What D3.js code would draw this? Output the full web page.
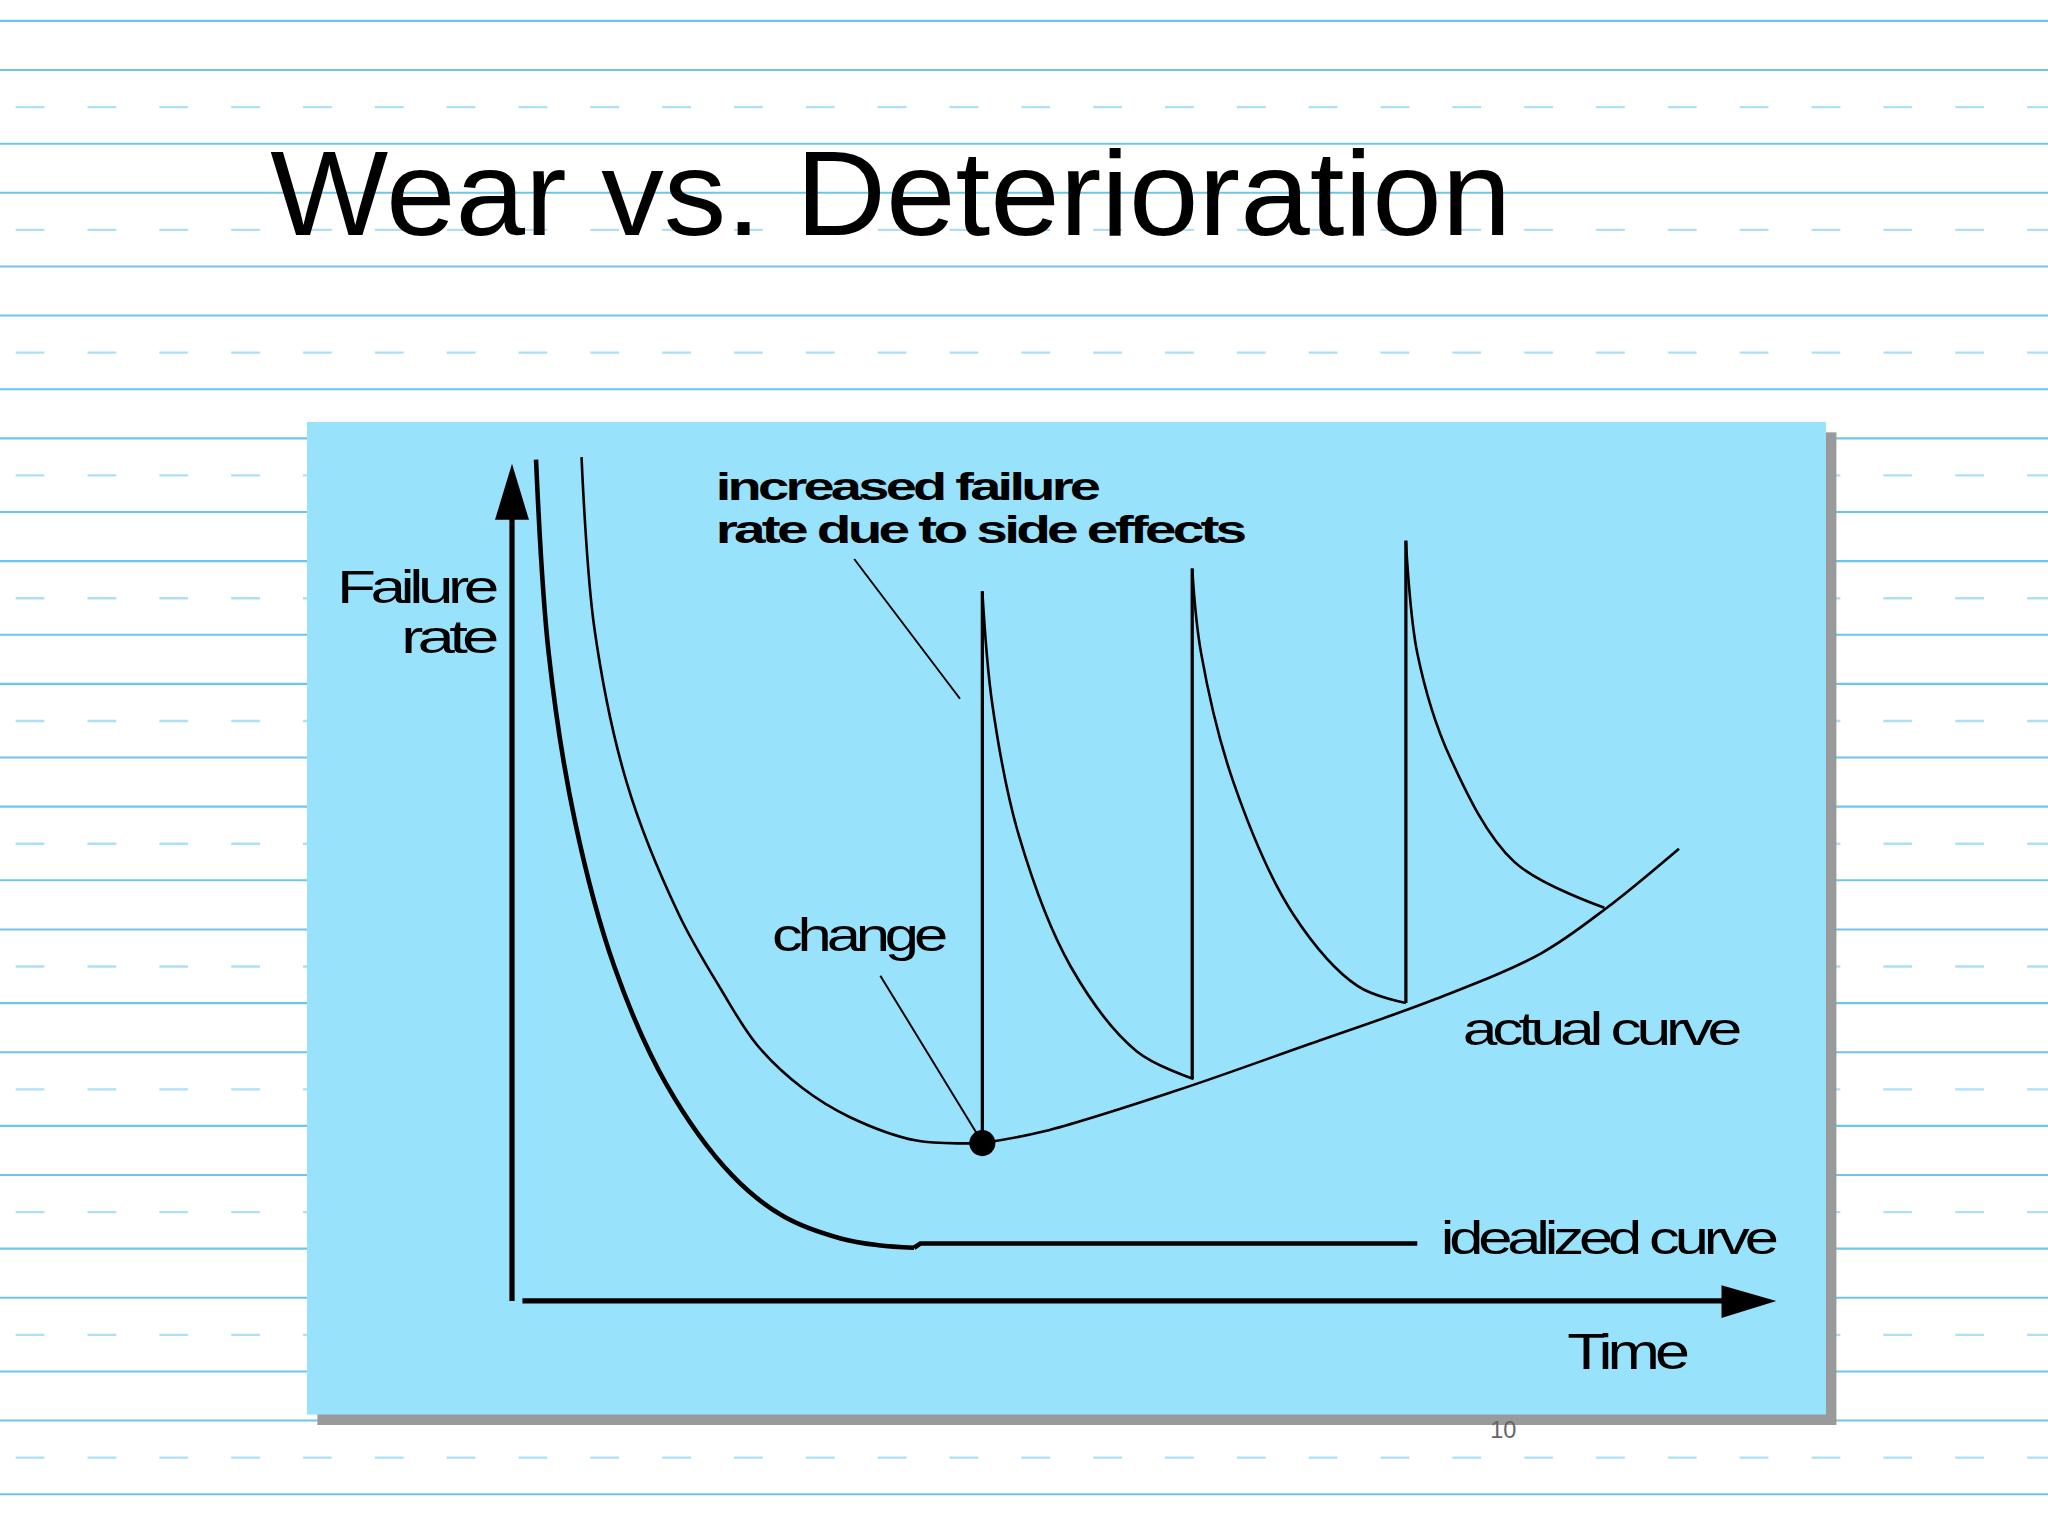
<!DOCTYPE html>
<html><head><meta charset="utf-8">
<script src="https://cdn.jsdelivr.net/npm/d3@7/dist/d3.min.js"></script>
<style>html,body{margin:0;padding:0;background:#fff}svg{display:block}</style>
</head><body><div id="c"></div>
<script>
const title = "Wear vs. Deterioration";
const idealDecay = [[1.9,99.7],[2.9,76.8],[5.0,56.7],[8.1,39.6],[12.2,25.7],[17.4,14.9],[21.5,10.0],[26.0,7.4],[29.0,6.6],[31.8,6.3]];
const idealFlat = [[32.3,6.8],[71.6,6.8]];
const actualDecay = [[5.5,100],[6.5,79.9],[9.1,61.3],[13.2,45.8],[16.5,37.0],[19.4,30.3],[23.0,25.2],[26.7,21.8],[32.0,19.0],[37.2,18.7]];
const actualRise = [[37.2,18.7],[42.1,20.1],[52.5,24.9],[62.8,30.3],[73.1,35.8],[81.4,41.2],[86.6,46.6],[92.3,53.6]];
const spike1 = [[37.2,18.7],[37.2,84.1],[38.0,70.6],[40.1,55.1],[44.2,39.6],[49.4,29.6],[53.9,26.3]];
const spike2 = [[53.8,26.3],[53.8,86.8],[54.5,76.8],[57.1,61.3],[61.8,45.8],[66.9,37.3],[70.7,35.3]];
const spike3 = [[70.7,35.3],[70.7,90.1],[71.6,76.8],[74.2,64.4],[79.3,52.0],[86.4,46.6]];
const changePoint = [37.2,18.7];
const labels = {y:["Failure","rate"], x:"Time", side:["increased failure","rate due to side effects"], change:"change", actual:"actual curve", ideal:"idealized curve", page:"10"};

const svg = d3.select("#c").append("svg").attr("width",2048).attr("height",1536).attr("viewBox","0 0 1568 1176");
const solid=[], dash=[];
d3.range(0,13).forEach(k=>{solid.push(16+94*k, 53.6+94*k); dash.push(82+94*k);});
svg.selectAll(".s").data(solid.filter(v=>v<1176)).join("line").attr("x1",0).attr("x2",1568).attr("y1",d=>d).attr("y2",d=>d).attr("stroke","#6cc6ec").attr("stroke-width",1.6);
svg.selectAll(".d").data(dash.filter(v=>v<1176)).join("line").attr("x1",12).attr("x2",1568).attr("y1",d=>d).attr("y2",d=>d).attr("stroke","#aee0f5").attr("stroke-width",1.8).attr("stroke-dasharray","22 33");
svg.append("text").attr("x",207).attr("y",180).attr("font-family","Liberation Sans, Arial").attr("font-size",92).attr("fill","#000").attr("textLength",950).attr("lengthAdjust","spacingAndGlyphs").text(title);
svg.append("rect").attr("x",243).attr("y",331).attr("width",1163).attr("height",760).attr("fill","#9a9a9a");
svg.append("rect").attr("x",235).attr("y",323).attr("width",1163).attr("height",760).attr("fill","#99e2fc");

const x = d3.scaleLinear().domain([0,100]).range([392,1360]);
const y = d3.scaleLinear().domain([0,100]).range([996,350]);
const lineC = d3.line().x(d=>x(d[0])).y(d=>y(d[1])).curve(d3.curveCatmullRom.alpha(0.5));
const lineS = d3.line().x(d=>x(d[0])).y(d=>y(d[1]));
const g = svg.append("g").attr("fill","none").attr("stroke","#000");
g.append("path").attr("d",lineC(idealDecay)).attr("stroke-width",3.5);
g.append("path").attr("d",lineS([idealDecay[idealDecay.length-1],idealFlat[0],idealFlat[1]])).attr("stroke-width",3.5);
g.append("path").attr("d",lineC(actualDecay)).attr("stroke-width",2);
g.append("path").attr("d",lineC(actualRise)).attr("stroke-width",2);
[spike1,spike2,spike3].forEach(s=>{
  g.append("path").attr("d",lineS(s.slice(0,2))).attr("stroke-width",2.5);
  g.append("path").attr("d",lineC(s.slice(1))).attr("stroke-width",2);
});
svg.append("circle").attr("cx",x(changePoint[0])).attr("cy",y(changePoint[1])).attr("r",10).attr("fill","#000");
svg.append("line").attr("x1",x(0)).attr("x2",x(0)).attr("y1",y(0)).attr("y2",395).attr("stroke","#000").attr("stroke-width",4);
svg.append("path").attr("d","M379,398 L392,355 L405,398 Z").attr("fill","#000");
svg.append("line").attr("x1",400).attr("x2",1320).attr("y1",y(0)).attr("y2",y(0)).attr("stroke","#000").attr("stroke-width",4);
svg.append("path").attr("d","M1318,984 L1360,996 L1318,1009 Z").attr("fill","#000");
svg.append("line").attr("x1",654).attr("y1",428).attr("x2",735).attr("y2",535).attr("stroke","#000").attr("stroke-width",1.5);
svg.append("line").attr("x1",674).attr("y1",747).attr("x2",748).attr("y2",868).attr("stroke","#000").attr("stroke-width",1.5);
const T=(t,xx,yy,sz,len,opt={})=>{const e=svg.append("text").attr("x",xx).attr("y",yy).attr("font-family","Liberation Sans, Arial").attr("font-size",sz).attr("letter-spacing",opt.ls??-3).attr("font-weight",opt.w||"normal").attr("text-anchor",opt.a||"start").attr("fill",opt.c||"#000");
  if(len) e.attr("textLength",len).attr("lengthAdjust","spacingAndGlyphs"); e.text(t); return e;};
T(labels.y[0],258,462,35,120);
T(labels.y[1],307,500,35,71);
T(labels.side[0],548,383,30,292,{w:"bold",ls:-2});
T(labels.side[1],548,416,30,404,{w:"bold",ls:-2});
T(labels.change,591,728,36,131);
T(labels.actual,1120,800,36,210);
T(labels.ideal,1103,960,36,255);
T(labels.x,1200,1048,38,90);
T(labels.page,1141,1101,18,null,{ls:0,c:"#666"});
</script></body></html>
